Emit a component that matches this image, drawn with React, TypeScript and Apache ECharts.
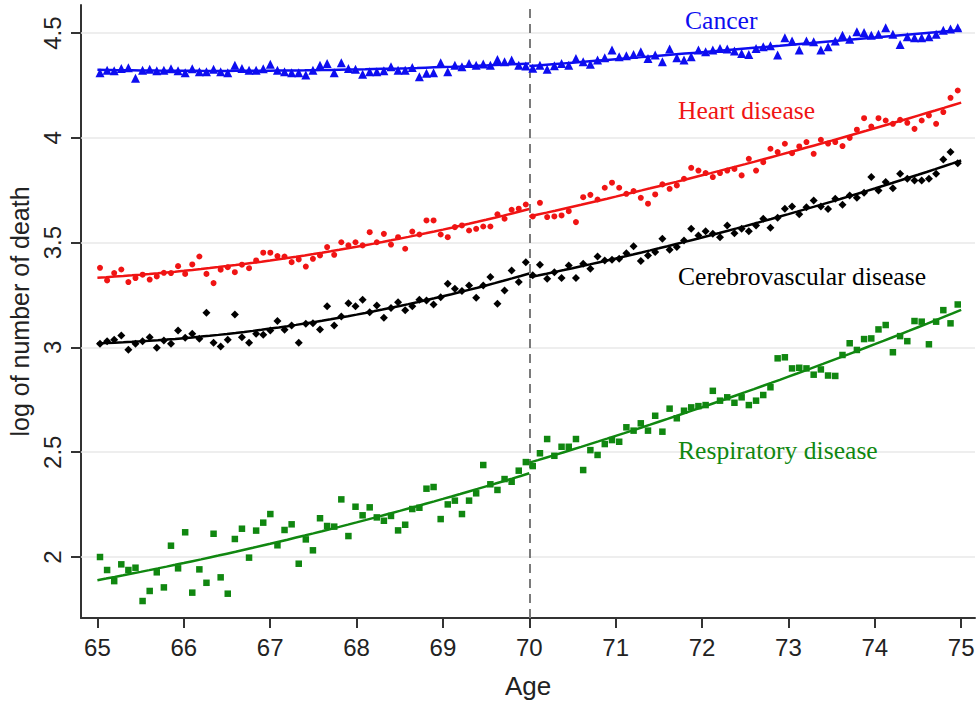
import { useEffect, useRef } from "react";
import * as echarts from "echarts";

// Monthly log death counts, split at the age-70 cut-off
const cancerBefore = [
  4.311, 4.323, 4.32, 4.331, 4.335, 4.284, 4.323, 4.327, 4.32, 4.323,
  4.33, 4.32, 4.311, 4.33, 4.316, 4.316, 4.327, 4.316, 4.311, 4.347,
  4.331, 4.323, 4.323, 4.33, 4.351, 4.323, 4.316, 4.311, 4.311, 4.3,
  4.323, 4.347, 4.355, 4.311, 4.358, 4.331, 4.327, 4.304, 4.316, 4.316,
  4.32, 4.339, 4.323, 4.323, 4.336, 4.292, 4.308, 4.311, 4.358, 4.316,
  4.347, 4.339, 4.355, 4.347, 4.352, 4.347, 4.374, 4.363, 4.371, 4.347,
  4.343,
];
const cancerAfter = [
  4.332, 4.347, 4.328, 4.344, 4.355, 4.347, 4.379, 4.363, 4.351, 4.371,
  4.382, 4.419, 4.387, 4.392, 4.398, 4.411, 4.379, 4.395, 4.363, 4.424,
  4.382, 4.371, 4.387, 4.419, 4.411, 4.419, 4.427, 4.424, 4.414, 4.403,
  4.398, 4.427, 4.435, 4.439, 4.395, 4.478, 4.462, 4.419, 4.462, 4.459,
  4.419, 4.435, 4.462, 4.49, 4.471, 4.506, 4.503, 4.49, 4.494, 4.525,
  4.494, 4.446, 4.483, 4.478, 4.478, 4.483, 4.494, 4.514, 4.519, 4.525,
];
const heartBefore = [
  3.38, 3.32, 3.355, 3.372, 3.312, 3.331, 3.347, 3.324, 3.339, 3.356,
  3.355, 3.388, 3.351, 3.396, 3.434, 3.351, 3.307, 3.371, 3.383, 3.359,
  3.395, 3.378, 3.415, 3.452, 3.452, 3.436, 3.434, 3.407, 3.42, 3.386,
  3.423, 3.439, 3.479, 3.442, 3.502, 3.487, 3.502, 3.487, 3.55, 3.502,
  3.542, 3.491, 3.526, 3.471, 3.553, 3.539, 3.606, 3.606, 3.539, 3.526,
  3.574, 3.582, 3.558, 3.566, 3.577, 3.577, 3.635, 3.614, 3.657, 3.662,
  3.682,
];
const heartAfter = [
  3.625, 3.69, 3.622, 3.625, 3.63, 3.65, 3.598, 3.717, 3.728, 3.706,
  3.762, 3.786, 3.762, 3.733, 3.746, 3.714, 3.686, 3.73, 3.778, 3.757,
  3.773, 3.805, 3.857, 3.844, 3.832, 3.813, 3.832, 3.844, 3.852, 3.821,
  3.9, 3.844, 3.884, 3.948, 3.932, 3.972, 3.927, 3.959, 3.98, 3.924,
  3.991, 3.973, 3.98, 3.961, 4.0, 4.039, 4.094, 4.054, 4.094, 4.083,
  4.067, 4.086, 4.072, 4.043, 4.083, 4.107, 4.067, 4.123, 4.191, 4.226,
];
const cerebroBefore = [
  3.018, 3.029, 3.037, 3.057, 2.989, 3.018, 3.029, 3.049, 2.998, 3.033,
  3.018, 3.081, 3.046, 3.065, 3.041, 3.165, 3.022, 3.005, 3.037, 3.157,
  3.049, 3.022, 3.065, 3.061, 3.081, 3.126, 3.084, 3.105, 3.022, 3.113,
  3.116, 3.086, 3.196, 3.105, 3.148, 3.211, 3.196, 3.228, 3.168, 3.2,
  3.142, 3.188, 3.216, 3.177, 3.196, 3.228, 3.224, 3.205, 3.24, 3.304,
  3.28, 3.269, 3.296, 3.237, 3.296, 3.336, 3.208, 3.272, 3.367, 3.312,
  3.407,
];
const cerebroAfter = [
  3.344, 3.394, 3.328, 3.359, 3.331, 3.391, 3.331, 3.399, 3.375, 3.434,
  3.415, 3.418, 3.423, 3.45, 3.483, 3.412, 3.439, 3.455, 3.519, 3.466,
  3.479, 3.51, 3.566, 3.534, 3.555, 3.542, 3.526, 3.582, 3.545, 3.566,
  3.555, 3.582, 3.614, 3.571, 3.619, 3.662, 3.673, 3.635, 3.669, 3.701,
  3.673, 3.66, 3.709, 3.681, 3.725, 3.714, 3.738, 3.813, 3.749, 3.789,
  3.76, 3.829, 3.805, 3.797, 3.797, 3.805, 3.829, 3.897, 3.932, 3.879,
];
const respBefore = [
  2.0, 1.938, 1.885, 1.965, 1.938, 1.949, 1.79, 1.838, 1.927, 1.855,
  2.054, 1.946, 2.118, 1.83, 1.941, 1.877, 2.111, 1.903, 1.825, 2.086,
  2.135, 1.997, 2.126, 2.164, 2.205, 2.056, 2.129, 2.156, 1.968, 2.084,
  2.032, 2.185, 2.148, 2.145, 2.275, 2.1, 2.24, 2.199, 2.237, 2.189,
  2.173, 2.196, 2.127, 2.154, 2.229, 2.235, 2.326, 2.334, 2.181, 2.251,
  2.269, 2.205, 2.269, 2.304, 2.439, 2.347, 2.32, 2.372, 2.359, 2.412,
  2.453,
];
const respAfter = [
  2.434, 2.495, 2.563, 2.483, 2.526, 2.526, 2.563, 2.415, 2.51, 2.487,
  2.539, 2.558, 2.55, 2.619, 2.603, 2.638, 2.603, 2.674, 2.598, 2.708,
  2.662, 2.698, 2.714, 2.72, 2.725, 2.793, 2.746, 2.762, 2.736, 2.762,
  2.725, 2.746, 2.773, 2.81, 2.948, 2.953, 2.9, 2.903, 2.9, 2.87,
  2.895, 2.866, 2.864, 2.964, 3.02, 2.988, 3.04, 3.043, 3.086, 3.107,
  2.977, 3.054, 3.03, 3.126, 3.123, 3.015, 3.123, 3.178, 3.115, 3.205,
];

const xTicks = [65, 66, 67, 68, 69, 70, 71, 72, 73, 74, 75];
const yTicks = [2, 2.5, 3, 3.5, 4, 4.5];
const CUTOFF = 70;

// First and last monthly observation on each side of the cut-off
const BEFORE_RANGE = [65.03, 69.96];
const AFTER_RANGE = [70.04, 74.96];

function ages(n: number, range: number[]) {
  const step = (range[1] - range[0]) / (n - 1);
  return Array.from({ length: n }, (_, i) => range[0] + i * step);
}

function pairs(xs: number[], ys: number[]) {
  return ys.map((y, i) => [xs[i], y]);
}

// Quadratic least-squares fit, evaluated across [from, to]
function quadFit(xs: number[], ys: number[], from: number, to: number) {
  const mx = xs.reduce((a, b) => a + b, 0) / xs.length;
  const s = [0, 0, 0, 0, 0];
  const t = [0, 0, 0];
  xs.forEach((x0, i) => {
    const x = x0 - mx;
    let p = 1;
    for (let k = 0; k < 5; k++) {
      s[k] += p;
      if (k < 3) t[k] += p * ys[i];
      p *= x;
    }
  });
  const m = [
    [s[0], s[1], s[2], t[0]],
    [s[1], s[2], s[3], t[1]],
    [s[2], s[3], s[4], t[2]],
  ];
  for (let c = 0; c < 3; c++) {
    for (let r = c + 1; r < 3; r++) {
      const f = m[r][c] / m[c][c];
      for (let k = c; k < 4; k++) m[r][k] -= f * m[c][k];
    }
  }
  const b = [0, 0, 0];
  for (let r = 2; r >= 0; r--) {
    let v = m[r][3];
    for (let k = r + 1; k < 3; k++) v -= m[r][k] * b[k];
    b[r] = v / m[r][r];
  }
  const out: number[][] = [];
  const steps = 50;
  for (let i = 0; i <= steps; i++) {
    const x = from + ((to - from) * i) / steps;
    const d = x - mx;
    out.push([x, b[0] + b[1] * d + b[2] * d * d]);
  }
  return out;
}

type Group = {
  before: number[];
  after: number[];
  color: string;
  symbol: string;
  size: number;
};

const groups: Group[] = [
  { before: cancerBefore, after: cancerAfter, color: "#0d0df0", symbol: "triangle", size: 9 },
  { before: heartBefore, after: heartAfter, color: "#f01414", symbol: "circle", size: 6 },
  { before: cerebroBefore, after: cerebroAfter, color: "#000000", symbol: "diamond", size: 8 },
  { before: respBefore, after: respAfter, color: "#108710", symbol: "rect", size: 6.5 },
];

const SANS = "'Liberation Sans', Arial, sans-serif";
const SERIF = "'Liberation Serif', 'Times New Roman', serif";

export default function App() {
  const ref = useRef<HTMLDivElement>(null);

  useEffect(() => {
    if (!ref.current) return;
    const chart = echarts.init(ref.current, null, { renderer: "svg" });

    const series: any[] = [
      {
        type: "scatter",
        data: [],
        z: 1,
        silent: true,
        markLine: {
          z: 1,
          silent: true,
          symbol: ["none", "none"],
          label: { show: false },
          lineStyle: { color: "#e8e8e8", width: 1.5, type: "solid" },
          data: yTicks.map((v) => ({ yAxis: v })),
        },
      },
      {
        type: "scatter",
        data: [],
        z: 2,
        silent: true,
        markLine: {
          z: 2,
          silent: true,
          symbol: ["none", "none"],
          label: { show: false },
          lineStyle: { color: "#7a7a7a", width: 2, type: [9, 6] },
          data: [{ xAxis: CUTOFF }],
        },
      },
    ];

    groups.forEach((g) => {
      const xb = ages(g.before.length, BEFORE_RANGE);
      const xa = ages(g.after.length, AFTER_RANGE);
      [
        [xb, g.before],
        [xa, g.after],
      ].forEach(([xs, ys]) => {
        series.push({
          type: "scatter",
          data: pairs(xs, ys),
          symbol: g.symbol,
          symbolSize: g.size,
          itemStyle: { color: g.color, opacity: 1 },
          z: 3,
        });
      });
      series.push({
        type: "line",
        data: quadFit(xb, g.before, 65, CUTOFF),
        showSymbol: false,
        lineStyle: { color: g.color, width: 2.5 },
        z: 4,
      });
      series.push({
        type: "line",
        data: quadFit(xa, g.after, CUTOFF, 75),
        showSymbol: false,
        lineStyle: { color: g.color, width: 2.5 },
        z: 4,
      });
    });

    const label = (text: string, x: number, y: number, color: string) => ({
      type: "text",
      left: x,
      top: y,
      style: { text, fill: color, font: `25.6px ${SERIF}` },
      z: 10,
    });

    chart.setOption({
      animation: false,
      backgroundColor: "#ffffff",
      grid: { left: 81, right: 4, top: 5, bottom: 84, outerBoundsMode: "none", containLabel: false },
      xAxis: {
        type: "value",
        min: 64.81,
        max: 75.16,
        name: "Age",
        nameLocation: "middle",
        nameGap: 55,
        nameTextStyle: { fontFamily: SANS, fontSize: 26, color: "#222" },
        axisLine: { show: true, lineStyle: { color: "#333", width: 2 } },
        axisTick: { show: true, length: 10, lineStyle: { color: "#333", width: 2 }, customValues: xTicks },
        axisLabel: { fontFamily: SANS, fontSize: 24, color: "#222", margin: 17, customValues: xTicks },
        splitLine: { show: false },
      },
      yAxis: {
        type: "value",
        min: 1.709,
        max: 4.634,
        name: "log of number of death",
        nameLocation: "middle",
        nameGap: 46,
        nameRotate: 90,
        nameTextStyle: { fontFamily: SANS, fontSize: 25, color: "#222" },
        axisLine: { show: true, lineStyle: { color: "#333", width: 2 } },
        axisTick: { show: true, length: 10, lineStyle: { color: "#333", width: 2 }, customValues: yTicks },
        axisLabel: {
          fontFamily: SANS,
          fontSize: 24,
          color: "#222",
          rotate: 90,
          margin: 17,
          customValues: yTicks,
          formatter: (v: number) => String(v),
        },
        splitLine: { show: false },
      },
      series,
      graphic: [
        label("Cancer", 685, 7, "#0d0df0"),
        label("Heart disease", 678, 97, "#f01414"),
        label("Cerebrovascular disease", 678, 263, "#000000"),
        label("Respiratory disease", 678, 437, "#108710"),
      ],
    });

    return () => chart.dispose();
  }, []);

  return (
    <div
      ref={ref}
      style={{ position: "absolute", left: 0, top: 0, width: 979, height: 702 }}
    />
  );
}
